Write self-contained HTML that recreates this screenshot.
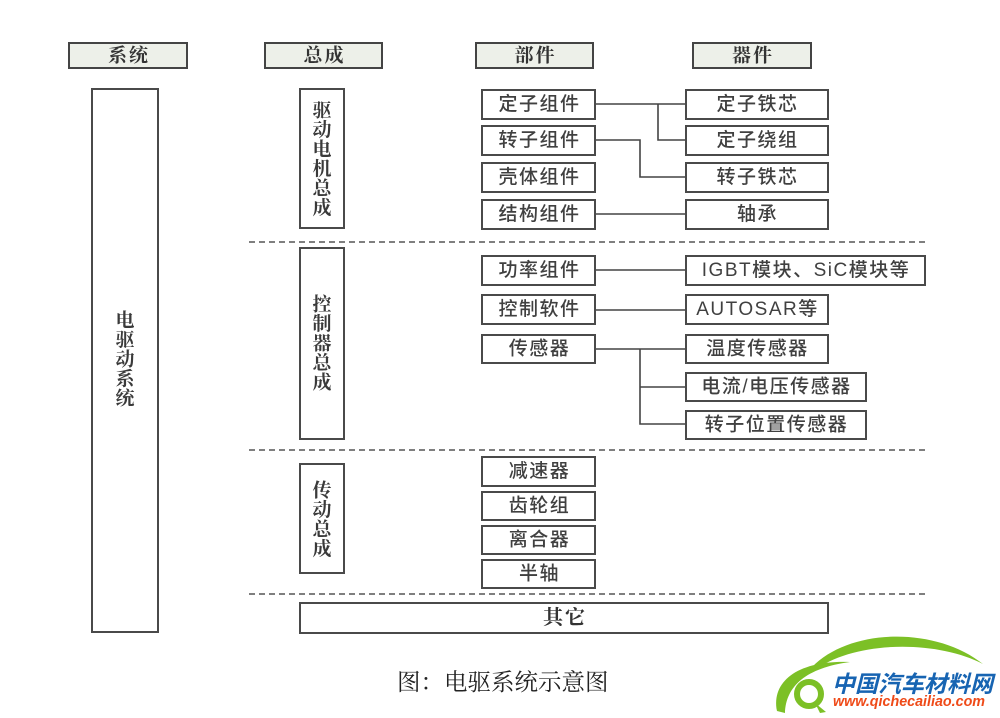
<!DOCTYPE html>
<html><head><meta charset="utf-8">
<style>
html,body{margin:0;padding:0;background:#fff;}
svg{display:block;}
.bx{fill:#fff;stroke:#4a4a4a;stroke-width:2;}
.hd{fill:#edf0e9;stroke:#444;stroke-width:2;}
.ln{stroke:#444;stroke-width:1.6;fill:none;}
.ds{stroke:#555;stroke-width:1.6;stroke-dasharray:6 4;fill:none;}
.t{font-family:"Liberation Sans","Noto Sans CJK SC",sans-serif;font-size:19px;font-weight:500;letter-spacing:1.5px;fill:#404040;text-anchor:middle;dominant-baseline:central;}
.h{font-family:"Liberation Serif","Noto Serif CJK SC",serif;font-size:19px;font-weight:bold;letter-spacing:2px;fill:#333;text-anchor:middle;dominant-baseline:central;}
.v{font-family:"Liberation Serif","Noto Serif CJK SC",serif;font-size:19px;font-weight:bold;fill:#3a3a3a;text-anchor:middle;dominant-baseline:central;}
</style></head>
<body>
<svg width="1000" height="718" viewBox="0 0 1000 718" xmlns="http://www.w3.org/2000/svg">
<!-- headers -->
<rect class="hd" x="69" y="43" width="118" height="25"/>
<rect class="hd" x="265" y="43" width="117" height="25"/>
<rect class="hd" x="476" y="43" width="117" height="25"/>
<rect class="hd" x="693" y="43" width="118" height="25"/>
<text class="h" x="129" y="56">系统</text>
<text class="h" x="324.5" y="56">总成</text>
<text class="h" x="535.5" y="56">部件</text>
<text class="h" x="753" y="56">器件</text>

<!-- system box -->
<rect class="bx" x="92" y="89" width="66" height="543"/>
<text class="v" x="125" y="321">电</text>
<text class="v" x="125" y="340.5">驱</text>
<text class="v" x="125" y="360">动</text>
<text class="v" x="125" y="379.5">系</text>
<text class="v" x="125" y="399">统</text>

<!-- assembly boxes -->
<rect class="bx" x="300" y="89" width="44" height="139"/>
<text class="v" x="322" y="111">驱</text>
<text class="v" x="322" y="130.5">动</text>
<text class="v" x="322" y="150">电</text>
<text class="v" x="322" y="169.5">机</text>
<text class="v" x="322" y="189">总</text>
<text class="v" x="322" y="208.5">成</text>

<rect class="bx" x="300" y="248" width="44" height="191"/>
<text class="v" x="322" y="305">控</text>
<text class="v" x="322" y="324.5">制</text>
<text class="v" x="322" y="344">器</text>
<text class="v" x="322" y="363.5">总</text>
<text class="v" x="322" y="383">成</text>

<rect class="bx" x="300" y="464" width="44" height="109"/>
<text class="v" x="322" y="491">传</text>
<text class="v" x="322" y="510.5">动</text>
<text class="v" x="322" y="530">总</text>
<text class="v" x="322" y="549.5">成</text>

<rect class="bx" x="300" y="603" width="528" height="30"/>
<text class="h" x="565" y="618" style="font-size:20px;">其它</text>

<!-- dashed separators -->
<line class="ds" x1="249" y1="242" x2="927" y2="242"/>
<line class="ds" x1="249" y1="450" x2="927" y2="450"/>
<line class="ds" x1="249" y1="594" x2="927" y2="594"/>

<!-- connectors -->
<path class="ln" d="M596 104 H685 M658 104 V140 H685"/>
<path class="ln" d="M596 140 H640 V177 H685"/>
<path class="ln" d="M596 214 H685"/>
<path class="ln" d="M596 270 H685"/>
<path class="ln" d="M596 310 H685"/>
<path class="ln" d="M596 349 H685 M640 349 V424 H685 M640 387 H685"/>

<!-- component boxes -->
<rect class="bx" x="482" y="90" width="113" height="29"/>
<text class="t" x="539.5" y="104.5">定子组件</text>
<rect class="bx" x="482" y="126" width="113" height="29"/>
<text class="t" x="539.5" y="140.5">转子组件</text>
<rect class="bx" x="482" y="163" width="113" height="29"/>
<text class="t" x="539.5" y="177.5">壳体组件</text>
<rect class="bx" x="482" y="200" width="113" height="29"/>
<text class="t" x="539.5" y="214.5">结构组件</text>

<rect class="bx" x="482" y="256" width="113" height="29"/>
<text class="t" x="539.5" y="270.5">功率组件</text>
<rect class="bx" x="482" y="295" width="113" height="29"/>
<text class="t" x="539.5" y="309.5">控制软件</text>
<rect class="bx" x="482" y="335" width="113" height="28"/>
<text class="t" x="539.5" y="349">传感器</text>

<rect class="bx" x="482" y="457" width="113" height="29"/>
<text class="t" x="539.5" y="471.5">减速器</text>
<rect class="bx" x="482" y="492" width="113" height="28"/>
<text class="t" x="539.5" y="506">齿轮组</text>
<rect class="bx" x="482" y="526" width="113" height="28"/>
<text class="t" x="539.5" y="540">离合器</text>
<rect class="bx" x="482" y="560" width="113" height="28"/>
<text class="t" x="539.5" y="574">半轴</text>

<!-- device boxes -->
<rect class="bx" x="686" y="90" width="142" height="29"/>
<text class="t" x="757.5" y="104.5">定子铁芯</text>
<rect class="bx" x="686" y="126" width="142" height="29"/>
<text class="t" x="757.5" y="140.5">定子绕组</text>
<rect class="bx" x="686" y="163" width="142" height="29"/>
<text class="t" x="757.5" y="177.5">转子铁芯</text>
<rect class="bx" x="686" y="200" width="142" height="29"/>
<text class="t" x="757.5" y="214.5">轴承</text>

<rect class="bx" x="686" y="256" width="239" height="29"/>
<text class="t" x="806" y="270.5">IGBT模块、SiC模块等</text>
<rect class="bx" x="686" y="295" width="142" height="29"/>
<text class="t" x="757.5" y="309.5">AUTOSAR等</text>
<rect class="bx" x="686" y="335" width="142" height="28"/>
<text class="t" x="757.5" y="349">温度传感器</text>
<rect class="bx" x="686" y="373" width="180" height="28"/>
<text class="t" x="776.5" y="387">电流/电压传感器</text>
<rect class="bx" x="686" y="411" width="180" height="28"/>
<text class="t" x="776.5" y="425">转子位置传感器</text>

<!-- caption -->
<text x="397" y="683" style="font-family:'Liberation Serif','Noto Serif CJK SC',serif;font-size:23.5px;fill:#222;dominant-baseline:central;">图：电驱系统示意图</text>

<!-- logo -->
<path d="M812 667 C850 628, 935 626, 983 664 C935 639, 852 641, 814 671 Z" fill="#7cc026"/>
<path d="M777 711 C771 680, 800 660, 850 662 C806 668, 786 686, 785 713 Z" fill="#7cc026"/>
<circle cx="809" cy="694" r="12" fill="none" stroke="#7cc026" stroke-width="6"/>
<path d="M815 703 L826 712 L820 713 Z" fill="#7cc026"/>
<text x="832" y="692" style="font-family:'Noto Sans CJK SC',sans-serif;font-size:23px;font-weight:bold;font-style:italic;fill:#1764b2;">中国汽车材料网</text>
<text x="833" y="706" style="font-family:'Liberation Sans',sans-serif;font-size:14.3px;font-weight:bold;font-style:italic;fill:#ef4a18;">www.qichecailiao.com</text>
</svg>
</body></html>
